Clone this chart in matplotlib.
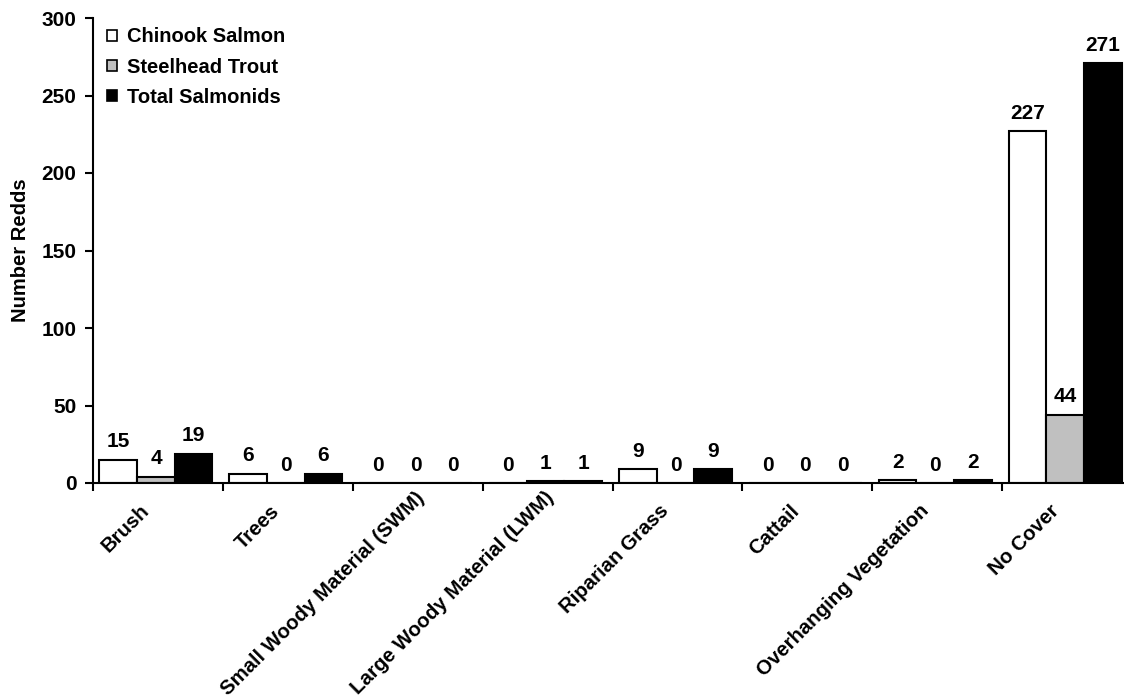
import matplotlib
matplotlib.use("Agg")
import matplotlib.pyplot as plt
import matplotlib.transforms as mtransforms
import numpy as np
from matplotlib.patches import Patch

plt.rcParams['font.family'] = ['Liberation Sans', 'DejaVu Sans']
plt.rcParams['font.weight'] = 'bold'

categories = ["Brush", "Trees", "Small Woody Material (SWM)", "Large Woody Material (LWM)",
              "Riparian Grass", "Cattail", "Overhanging Vegetation", "No Cover"]
chinook = [15, 6, 0, 0, 9, 0, 2, 227]
steelhead = [4, 0, 0, 1, 0, 0, 0, 44]
total = [19, 6, 0, 1, 9, 0, 2, 271]
series_names = ["Chinook Salmon", "Steelhead Trout", "Total Salmonids"]
colors = ["white", "#C0C0C0", "black"]

fig = plt.figure(figsize=(11.24, 7.0), dpi=100)
ax = fig.add_axes([93/1124, 1 - 483/700, (1132 - 93)/1124, (483 - 18)/700])

x = np.arange(len(categories))
w = 0.29
for i, (vals, c, name) in enumerate(zip([chinook, steelhead, total], colors, series_names)):
    pos = x + (i - 1) * w - 0.015
    ax.bar(pos, vals, width=w, color=c, edgecolor='black', linewidth=1.5, label=name, zorder=2)
    for p, v in zip(pos, vals):
        ax.annotate(str(v), (p, v), xytext=(0, 6), textcoords='offset points',
                    ha='center', va='bottom', fontsize=15, fontweight='bold')

ax.set_xlim(-0.5, len(categories) - 0.5)
ax.set_ylim(0, 300)
ax.set_yticks(np.arange(0, 301, 50))
ax.tick_params(axis='y', direction='out', length=6, width=1.5, labelsize=15, pad=6)
ax.set_xticks(x)
ax.set_xticklabels(categories, rotation=45, ha='right', va='top', rotation_mode='anchor', fontsize=14.7)
ax.tick_params(axis='x', which='major', length=0, pad=16)
ax.set_xticks(np.arange(-0.5, len(categories), 1), minor=True)
ax.tick_params(axis='x', which='minor', direction='out', length=6, width=1.5)
for k, lab in enumerate(ax.get_xticklabels()):
    dx, dy = -18, 4
    if k in (2, 3):
        dx, dy = dx + 15, dy + 13
    shift = mtransforms.ScaledTranslation(dx/100, dy/100, fig.dpi_scale_trans)
    lab.set_transform(lab.get_transform() + shift)
for lab in ax.get_xticklabels() + ax.get_yticklabels():
    lab.set_fontweight('bold')

for s in ['top', 'right']:
    ax.spines[s].set_visible(False)
for s in ['left', 'bottom']:
    ax.spines[s].set_linewidth(1.5)

ax.set_ylabel("Number Redds", fontsize=14.5, fontweight='bold', labelpad=8)

handles = [Patch(facecolor=c, edgecolor='black', linewidth=1.2) for c in colors]
leg = ax.legend(handles, series_names, loc='upper left', bbox_to_anchor=(0.006, 0.997),
                frameon=False, fontsize=14.5, handlelength=0.5, handleheight=0.5,
                handletextpad=0.5, labelspacing=0.55, borderaxespad=0.0)
for t in leg.get_texts():
    t.set_fontweight('bold')

fig.savefig("out.png", dpi=100)
